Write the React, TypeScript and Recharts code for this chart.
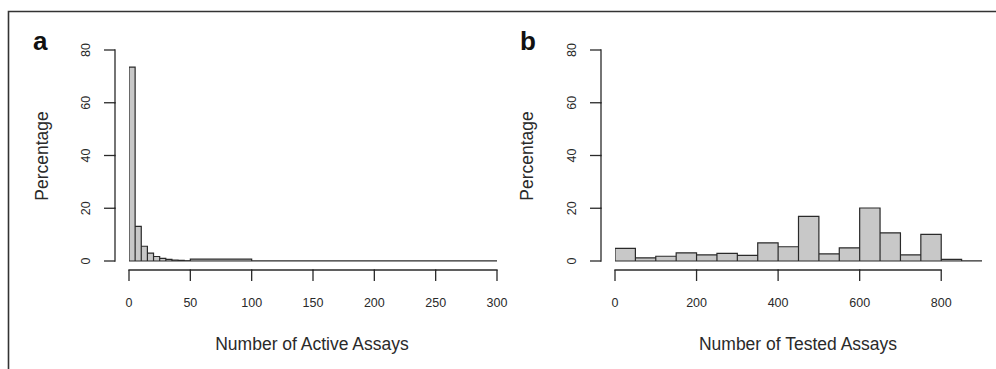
import React from 'react';
import { ComposedChart, Area, XAxis, YAxis, ReferenceLine } from 'recharts';

// bin edges and percentages
const activeEdges = [0, 5, 10, 15, 20, 25, 30, 35, 40, 45, 50, 100, 150, 200, 250, 300];
const activePct = [73.5, 13.1, 5.6, 3.0, 1.7, 1.0, 0.6, 0.35, 0.2, 0.1, 0.7, 0, 0, 0, 0];
const activeTicks = [0, 50, 100, 150, 200, 250, 300];

const testedEdges = [0, 50, 100, 150, 200, 250, 300, 350, 400, 450, 500, 550, 600, 650, 700, 750, 800, 850, 900];
const testedPct = [4.8, 1.2, 1.8, 3.1, 2.3, 2.9, 2.1, 6.9, 5.4, 16.9, 2.7, 5.0, 20.1, 10.7, 2.3, 10.1, 0.6, 0];
const testedTicks = [0, 200, 400, 600, 800];

const pctTicks = [0, 20, 40, 60, 80];

const INK = '#2a2a2a';
const FONT = '"Liberation Sans", Arial, Helvetica, sans-serif';

// each bin -> left edge, top, right edge (R style hist outline)
function binOutline(edges: number[], pct: number[]) {
  const pts: { x: number; y: number }[] = [];
  pct.forEach((p, i) => {
    pts.push({ x: edges[i], y: 0 }, { x: edges[i], y: p }, { x: edges[i + 1], y: p }, { x: edges[i + 1], y: 0 });
  });
  return pts;
}

// R draws axes detached from the plot region, so ticks + axis line are drawn here
function makeXTick() {
  let prev: number | null = null;
  return (p: any) => {
    const x = p.x;
    const y = p.y;
    const from = p.index === 0 ? null : prev;
    prev = x;
    return (
      <g>
        {from !== null && <line x1={from} x2={x} y1={y + 9} y2={y + 9} stroke={INK} strokeWidth={1.3} strokeLinecap="square" />}
        <line x1={x} x2={x} y1={y + 9} y2={y + 20} stroke={INK} strokeWidth={1.3} />
        <text x={x} y={y + 46} textAnchor="middle" fontSize={12.5} fill={INK} fontFamily={FONT}>
          {p.payload.value}
        </text>
      </g>
    );
  };
}

function makeYTick() {
  let prev: number | null = null;
  return (p: any) => {
    const x = p.x;
    const y = p.y;
    const from = p.index === 0 ? null : prev;
    prev = y;
    return (
      <g>
        {from !== null && <line x1={x - 14} x2={x - 14} y1={from} y2={y} stroke={INK} strokeWidth={1.3} strokeLinecap="square" />}
        <line x1={x - 25} x2={x - 14} y1={y} y2={y} stroke={INK} strokeWidth={1.3} />
        <text
          x={0}
          y={0}
          transform={`translate(${x - 39},${y}) rotate(-90)`}
          textAnchor="middle"
          fontSize={12.5}
          fill={INK}
          fontFamily={FONT}
        >
          {p.payload.value}
        </text>
      </g>
    );
  };
}

function Hist(props: {
  edges: number[];
  pct: number[];
  ticks: number[];
  left: number;
  width: number;
  marginLeft: number;
  marginRight: number;
}) {
  const { edges, pct, ticks, left, width, marginLeft, marginRight } = props;
  const data = binOutline(edges, pct);
  return (
    <div style={{ position: 'absolute', left, top: 0 }}>
      <ComposedChart
        width={width}
        height={369}
        data={data}
        margin={{ top: 50, right: marginRight, bottom: 78, left: marginLeft }}
      >
        <XAxis
          dataKey="x"
          type="number"
          domain={[edges[0], edges[edges.length - 1]]}
          allowDataOverflow
          ticks={ticks}
          interval={0}
          height={30}
          axisLine={false}
          tickLine={false}
          tickSize={0}
          tickMargin={0}
          tick={makeXTick()}
        />
        <YAxis
          type="number"
          domain={[0, 80]}
          allowDataOverflow
          ticks={pctTicks}
          interval={0}
          width={60}
          axisLine={false}
          tickLine={false}
          tickSize={0}
          tickMargin={0}
          tick={makeYTick()}
        />
        <Area
          type="linear"
          dataKey="y"
          stroke={INK}
          strokeWidth={1.2}
          strokeLinejoin="miter"
          fill="#c8c8c8"
          fillOpacity={1}
          dot={false}
          activeDot={false}
          isAnimationActive={false}
        />
        <ReferenceLine y={0} stroke={INK} strokeWidth={1.2} />
      </ComposedChart>
    </div>
  );
}

export default function App() {
  return (
    <div style={{ position: 'absolute', left: 0, top: 0, width: 996, height: 369, background: '#fff', overflow: 'hidden' }}>
      <svg width={996} height={369} style={{ position: 'absolute', left: 0, top: 0 }}>
        <path d="M8.5 369 V11.5 H996" stroke="#333" strokeWidth={1.6} fill="none" />
        <g fontFamily={FONT} fill="#111">
          <text x={33} y={49.5} fontSize={26} fontWeight="bold">a</text>
          <text x={520} y={50} fontSize={26} fontWeight="bold">b</text>
        </g>
        <g fontFamily={FONT} fill={INK} fontSize={17.5} textAnchor="middle">
          <text transform="translate(47.5,156) rotate(-90)">Percentage</text>
          <text transform="translate(532.5,156) rotate(-90)">Percentage</text>
          <text x={312} y={350}>Number of Active Assays</text>
          <text x={798} y={350}>Number of Tested Assays</text>
        </g>
      </svg>
      <Hist edges={activeEdges} pct={activePct} ticks={activeTicks} left={0} width={525} marginLeft={69} marginRight={28} />
      <Hist edges={testedEdges} pct={testedPct} ticks={testedTicks} left={500} width={496} marginLeft={55} marginRight={14} />
    </div>
  );
}
